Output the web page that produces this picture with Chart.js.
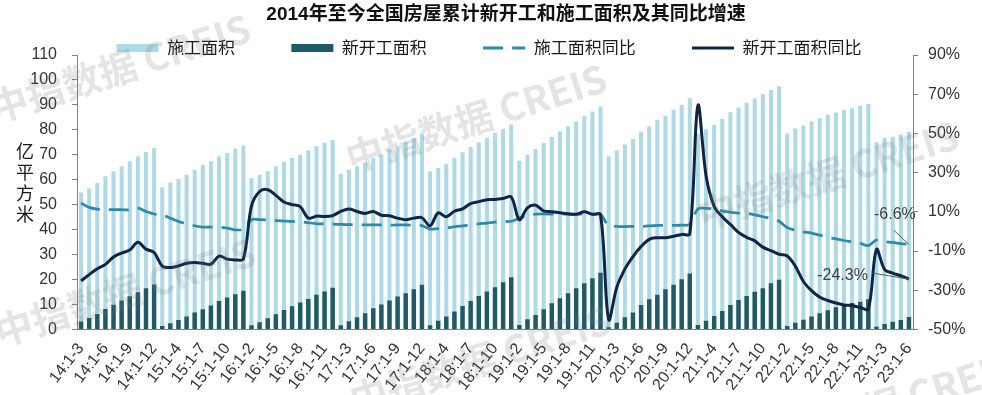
<!DOCTYPE html>
<html lang="zh">
<head>
<meta charset="utf-8">
<title>2014年至今全国房屋累计新开工和施工面积及其同比增速</title>
<script src="https://cdn.jsdelivr.net/npm/chart.js@4.4.1/dist/chart.umd.min.js"></script>
<style>
  html, body { margin: 0; padding: 0; background: #fff; }
  #contenedor { position: relative; width: 982px; height: 395px; }
</style>
</head>
<body>
<div id="contenedor"><canvas id="grafico"></canvas></div>
<script>
// años y meses acumulados (1-2 ... 1-12), desde 14:1-3 hasta 23:1-6
const anios = ['14', '15', '16', '17', '18', '19', '20', '21', '22', '23'];
const categorias = [];
anios.forEach(a => {
  const desde = a === '14' ? 3 : 2;
  const hasta = a === '23' ? 6 : 12;
  for (let m = desde; m <= hasta; m++) categorias.push(`${a}:1-${m}`);
});

// 施工面积 (亿平方米)
const sgArea = [
  54.9, 56.5, 58.7, 61.4, 63.4, 65.4, 67.4, 69.4, 71.1, 72.7,
  57.0, 58.9, 60.3, 62.0, 64.0, 66.0, 67.4, 69.4, 70.7, 72.5, 73.7,
  60.6, 62.0, 63.4, 65.4, 67.1, 68.7, 70.1, 71.8, 73.4, 74.8, 75.9,
  62.4, 64.0, 65.4, 66.9, 68.7, 70.0, 72.1, 73.4, 75.0, 76.7, 78.1,
  63.4, 64.7, 66.4, 68.7, 71.0, 73.1, 75.0, 76.7, 78.8, 80.3, 82.1,
  67.6, 70.0, 72.3, 74.7, 77.1, 79.4, 81.4, 83.4, 85.7, 87.4, 89.4,
  69.4, 71.8, 74.1, 76.3, 79.2, 81.4, 84.1, 85.7, 88.1, 90.1, 92.7,
  78.5, 80.2, 82.0, 84.4, 87.1, 89.0, 90.9, 92.6, 94.3, 96.0, 97.5,
  78.5, 80.5, 81.7, 83.4, 84.7, 86.1, 87.0, 88.1, 88.7, 89.7, 90.5,
  75.0, 76.7, 77.2, 78.1, 79.2
];

// 新开工面积 (亿平方米)
const xkgArea = [
  3.2, 4.6, 6.2, 8.2, 9.9, 11.6, 13.3, 14.9, 16.5, 18.0,
  1.4, 2.5, 3.8, 5.2, 6.8, 8.1, 9.6, 11.4, 12.8, 14.1, 15.5,
  1.7, 2.9, 4.5, 6.1, 7.8, 9.3, 10.8, 12.2, 13.9, 15.2, 16.7,
  1.7, 3.3, 4.9, 6.5, 8.5, 10.0, 11.6, 13.2, 14.5, 16.1, 17.9,
  1.7, 3.5, 5.2, 7.2, 9.4, 11.4, 13.4, 15.2, 16.9, 18.9, 20.9,
  1.8, 4.1, 5.8, 8.1, 10.5, 12.5, 14.5, 16.5, 18.5, 20.5, 22.7,
  0.9, 2.7, 4.9, 6.8, 9.8, 12.1, 13.9, 16.1, 17.9, 20.1, 22.4,
  1.8, 3.5, 5.4, 7.4, 9.8, 11.8, 13.4, 15.1, 16.5, 18.5, 19.9,
  1.4, 2.7, 3.9, 5.2, 6.5, 7.7, 8.9, 9.8, 10.6, 11.1, 12.1,
  1.1, 2.2, 3.1, 3.8, 5.0
];

// 施工面积同比 (%)
const sgYoy = [
  14.5, 12.3, 11.4, 11.1, 11.1, 11.1, 11.1, 11.9, 10.2, 8.9,
  8.5, 6.8, 5.1, 3.9, 2.9, 2.2, 2.2, 2.2, 1.7, 0.8, 1.3,
  6.0, 6.0, 5.8, 5.5, 5.3, 5.1, 5.0, 4.5, 4.0, 3.8, 3.7,
  3.6, 3.5, 3.4, 3.4, 3.4, 3.4, 3.3, 3.3, 3.3, 3.2, 3.0,
  1.2, 1.5, 1.8, 2.4, 2.9, 3.4, 3.9, 4.3, 4.8, 5.1, 5.2,
  6.8, 8.2, 8.8, 9.0, 8.8, 9.0, 8.8, 8.7, 9.0, 8.7, 8.7,
  2.9, 2.6, 2.5, 2.6, 2.6, 2.9, 3.1, 3.1, 3.1, 3.2, 3.7,
  11.5, 11.8, 11.5, 10.5, 9.8, 9.4, 9.2, 8.5, 7.5, 6.6, 5.2,
  2.0, 0.6, -0.2, -0.8, -1.9, -2.9, -3.8, -4.6, -5.3, -6.0, -7.2,
  -4.4, -5.2, -5.6, -6.2, -6.6
];

// 新开工面积同比 (%)
const xkgYoy = [
  -25.2, -22.0, -19.0, -16.8, -13.0, -11.0, -9.5, -5.5, -9.0, -10.7,
  -17.7, -18.4, -17.6, -16.2, -15.8, -16.2, -16.7, -12.6, -14.1, -14.5, -14.0,
  13.0, 20.4, 21.3, 18.4, 15.0, 13.7, 12.7, 6.8, 7.8, 7.6, 8.1,
  10.2, 11.4, 10.2, 9.2, 10.2, 8.3, 8.0, 6.8, 6.0, 6.8, 7.0,
  2.9, 9.5, 7.5, 10.3, 11.5, 14.2, 15.2, 16.2, 16.3, 16.8, 17.6,
  6.0, 12.0, 13.4, 10.5, 10.1, 9.5, 9.0, 8.8, 10.0, 8.8, 8.5,
  -44.9, -28.5, -19.2, -12.8, -7.7, -4.0, -3.2, -3.2, -2.4, -1.5, -1.2,
  64.3, 28.5, 12.8, 7.5, 3.6, -0.5, -3.0, -4.8, -8.0, -9.8, -11.6,
  -12.5, -17.7, -25.5, -30.2, -33.5, -35.2, -36.5, -37.5, -37.8, -38.8, -39.6,
  -9.2, -19.4, -21.2, -22.6, -24.3
];

// colores
const COLOR_SG = '#acdbe7';
const COLOR_XKG = '#1e5a68';
const COLOR_SG_YOY = '#2b8ba8';
const COLOR_XKG_YOY = '#0e2548';

const FUENTE_NUM = '"Liberation Sans", Arial, sans-serif';
const FUENTE_CJK = '"Noto Sans CJK SC", "Noto Sans CJK JP", sans-serif';

// espacio extra tras cada texto de la leyenda, para separar los items
const relleno = ['\u3000\u3000\u2002 ', '\u3000\u3000\u2002 ', '\u3000\u3000\u2002 ', '\u3000\u3000'];

const fmt = v => v.toFixed(1) + '%';

// etiquetas de los últimos valores, título vertical del eje y marca de agua
const extras = {
  id: 'extras',
  afterDatasetsDraw(chart) {
    const ctx = chart.ctx;
    const n = categorias.length - 1;
    const pSolid = chart.getDatasetMeta(3).data[n];
    const pDash = chart.getDatasetMeta(2).data[n];
    ctx.save();
    ctx.strokeStyle = '#595959';
    ctx.lineWidth = 1;
    ctx.beginPath();
    ctx.moveTo(pSolid.x - 36, pSolid.y - 6);
    ctx.lineTo(pSolid.x, pSolid.y);
    ctx.moveTo(pDash.x - 15, pDash.y - 14);
    ctx.lineTo(pDash.x, pDash.y);
    ctx.stroke();
    ctx.font = '16px ' + FUENTE_NUM;
    ctx.fillStyle = '#404040';
    ctx.textBaseline = 'middle';
    ctx.textAlign = 'right';
    ctx.fillText(fmt(xkgYoy[n]), pSolid.x - 41, pSolid.y - 4);
    ctx.textAlign = 'center';
    ctx.fillText(fmt(sgYoy[n]), pDash.x - 14, pDash.y - 30);
    ctx.restore();
  },
  afterDraw(chart) {
    const ctx = chart.ctx;
    ctx.save();
    // título del eje izquierdo, caracteres en vertical
    ctx.font = '18px ' + FUENTE_CJK;
    ctx.fillStyle = '#1a1a1a';
    ctx.textAlign = 'center';
    ctx.textBaseline = 'middle';
    ['亿', '平', '方', '米'].forEach((c, i) => ctx.fillText(c, 25, 151 + i * 21));
    // marca de agua
    ctx.font = 'bold 38px ' + FUENTE_CJK;
    ctx.fillStyle = 'rgba(120,120,120,0.2)';
    [[120, 68], [476, 118], [125, 292], [828, 175], [480, 360], [885, 405]].forEach(([x, y]) => {
      ctx.save();
      ctx.translate(x, y);
      ctx.rotate(-0.31);
      ctx.fillText('中指数据 CREIS', 0, 0);
      ctx.restore();
    });
    ctx.restore();
  }
};

const ctx = document.getElementById('grafico').getContext('2d');
new Chart(ctx, {
  data: {
    labels: categorias,
    datasets: [
      { type: 'bar', label: '施工面积', data: sgArea, yAxisID: 'y', backgroundColor: COLOR_SG,
        barPercentage: 0.5, categoryPercentage: 1, grouped: false, order: 3 },
      { type: 'bar', label: '新开工面积', data: xkgArea, yAxisID: 'y', backgroundColor: COLOR_XKG,
        barPercentage: 0.55, categoryPercentage: 1, grouped: false, order: 2 },
      { type: 'line', label: '施工面积同比', data: sgYoy, yAxisID: 'y1', borderColor: COLOR_SG_YOY,
        borderWidth: 2.75, borderDash: [20, 9], pointRadius: 0, tension: 0.35, order: 1 },
      { type: 'line', label: '新开工面积同比', data: xkgYoy, yAxisID: 'y1', borderColor: COLOR_XKG_YOY,
        borderWidth: 3, pointRadius: 0, tension: 0.35, order: 0 }
    ]
  },
  options: {
    responsive: true,
    maintainAspectRatio: false,
    animation: false,
    devicePixelRatio: 1,
    layout: { padding: { left: 30, right: 0, top: 0, bottom: 0 } },
    plugins: {
      tooltip: { enabled: false },
      title: {
        display: true,
        text: '2014年至今全国房屋累计新开工和施工面积及其同比增速',
        color: '#111',
        font: { family: FUENTE_NUM.replace('sans-serif', '') + FUENTE_CJK, size: 19, weight: 'bold' },
        padding: { top: 3.6, bottom: 3.1 }
      },
      legend: {
        position: 'top',
        maxHeight: 25.5,
        labels: {
          usePointStyle: true,
          pointStyleWidth: 42,
          boxHeight: 8,
          padding: 10,
          color: '#1a1a1a',
          font: { family: FUENTE_CJK, size: 17 },
          generateLabels(chart) {
            return chart.data.datasets.map((ds, i) => {
              const esBarra = ds.type === 'bar';
              return {
                text: ds.label + relleno[i],
                datasetIndex: i,
                fillStyle: esBarra ? ds.backgroundColor : 'rgba(0,0,0,0)',
                strokeStyle: esBarra ? ds.backgroundColor : ds.borderColor,
                lineWidth: esBarra ? 0 : 3,
                lineDash: ds.borderDash || [],
                pointStyle: esBarra ? 'rect' : 'line',
                fontColor: '#1a1a1a',
                hidden: false
              };
            });
          }
        }
      }
    },
    scales: {
      x: {
        offset: true,
        grid: { display: false, drawTicks: false },
        border: { display: true, color: '#808080' },
        ticks: {
          autoSkip: false,
          minRotation: 52,
          maxRotation: 52,
          padding: 10,
          color: '#333',
          font: { family: FUENTE_NUM, size: 16 },
          callback: (v, i) => (i % 3 === 0 ? categorias[i] : '')
        },
        afterFit: s => { s.height = 65.5; }
      },
      y: {
        position: 'left',
        min: 0,
        max: 110,
        grid: { drawOnChartArea: false, tickLength: 5, color: '#808080' },
        border: { color: '#808080' },
        ticks: { stepSize: 10, padding: 15, color: '#333', font: { family: FUENTE_NUM, size: 16 } },
        afterFit: s => { s.width = 47; }
      },
      y1: {
        position: 'right',
        min: -50,
        max: 90,
        grid: { drawOnChartArea: false, tickLength: 5, color: '#808080' },
        border: { color: '#808080' },
        ticks: { stepSize: 20, padding: 10, color: '#333', font: { family: FUENTE_NUM, size: 16 },
          callback: v => v + '%' },
        afterFit: s => { s.width = 69; }
      }
    }
  },
  plugins: [extras]
});
</script>
</body>
</html>
